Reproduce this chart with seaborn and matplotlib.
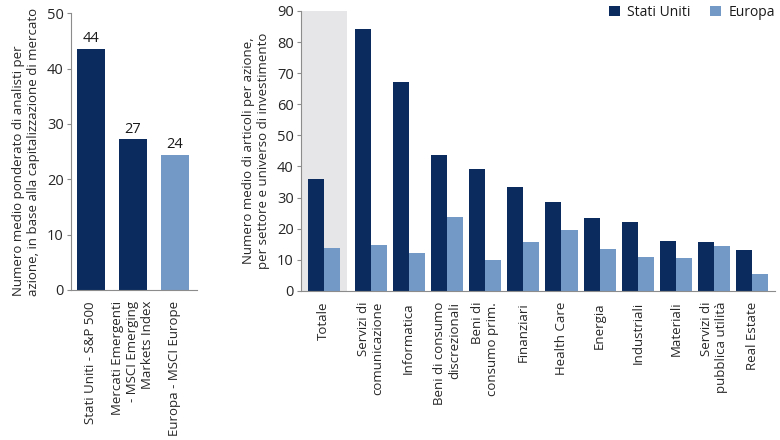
import pandas as pd
import matplotlib
matplotlib.use("Agg")
import matplotlib.pyplot as plt
import seaborn as sns

# *************************** Dati ***************************

# pannello sinistro: analisti per azione
mercati = [
    "Stati Uniti - S&P 500",
    "Mercati Emergenti\n- MSCI Emerging\nMarkets Index",
    "Europa - MSCI Europe",
]
analisti = [43.6, 27.2, 24.4]

# pannello destro: articoli per azione per settore
settori = [
    "Totale",
    "Servizi di\ncomunicazione",
    "Informatica",
    "Beni di consumo\ndiscrezionali",
    "Beni di\nconsumo prim.",
    "Finanziari",
    "Health Care",
    "Energia",
    "Industriali",
    "Materiali",
    "Servizi di\npubblica utilità",
    "Real Estate",
]
articoli_usa = [36.1, 84.3, 67.2, 43.8, 39.3, 33.3, 28.5, 23.4, 22.0, 16.1, 15.6, 13.2]
articoli_europa = [13.8, 14.7, 12.1, 23.7, 10.0, 15.7, 19.5, 13.5, 10.9, 10.6, 14.3, 5.5]
serie = ["Stati Uniti", "Europa"]

NAVY = "#0B2B5E"
LIGHT = "#7399C6"
GRIGIO = "#8C8C8C"

sns.set_style("ticks")
plt.rcParams["font.family"] = ["Open Sans", "DejaVu Sans"]
plt.rcParams["text.color"] = "#1A1A1A"

fig = plt.figure(figsize=(7.8, 4.4), dpi=100)
ax1 = fig.add_axes([0.0906, 0.341, 0.1616, 0.629])
ax2 = fig.add_axes([0.3855, 0.339, 0.608, 0.636])

# *************************** Pannello sinistro ***************************

sns.barplot(
    x=mercati,
    y=analisti,
    hue=mercati,
    palette=[NAVY, NAVY, LIGHT],
    width=0.66,
    saturation=1,
    linewidth=0,
    legend=False,
    ax=ax1,
)
for c in ax1.containers:
    ax1.bar_label(c, fmt="%.0f", padding=2, fontsize=10.5)

ax1.set_ylim(0, 50)
ax1.set_yticks(range(0, 51, 10))
ax1.set_xlim(-0.48, 2.52)
ax1.set_ylabel(
    "Numero medio ponderato di analisti per\nazione, in base alla capitalizzazione di mercato",
    fontsize=9.5,
    labelpad=5,
    multialignment="left",
)

# *************************** Pannello destro ***************************

# Totale staccato dagli altri settori
pos = [0.0] + [round(1.23 + i, 2) for i in range(len(settori) - 1)]
df = pd.DataFrame({
    "pos": pos * 2,
    "valore": articoli_usa + articoli_europa,
    "serie": [serie[0]] * len(settori) + [serie[1]] * len(settori),
})

ax2.axvspan(-0.6, 0.6, color="#E6E6E8", zorder=0, lw=0)
sns.barplot(
    data=df,
    x="pos",
    y="valore",
    hue="serie",
    hue_order=serie,
    palette=[NAVY, LIGHT],
    native_scale=True,
    width=0.84,
    saturation=1,
    linewidth=0,
    ax=ax2,
)

ax2.set_ylim(0, 90)
ax2.set_yticks(range(0, 91, 10))
ax2.set_xlim(-0.6, 11.82)
ax2.set_xticks(pos)
ax2.set_xticklabels(settori)
ax2.set_xlabel("")
ax2.set_ylabel(
    "Numero medio di articoli per azione,\nper settore e universo di investimento",
    fontsize=9.5,
    labelpad=5,
)

handles, labels = ax2.get_legend_handles_labels()
ax2.legend(
    handles,
    labels,
    loc="center right",
    bbox_to_anchor=(1.0, 0.995),
    ncol=2,
    frameon=False,
    fontsize=10,
    handlelength=0.8,
    handleheight=0.8,
    handletextpad=0.5,
    columnspacing=1.4,
    borderaxespad=0,
    borderpad=0,
)

# *************************** Stile assi ***************************

for ax in [ax1, ax2]:
    sns.despine(ax=ax)
    for s in ["left", "bottom"]:
        ax.spines[s].set_color(GRIGIO)
    ax.tick_params(axis="x", length=0, pad=8, labelsize=9.5)
    ax.tick_params(axis="y", length=3, color=GRIGIO, labelsize=10.5, pad=2)
    plt.setp(ax.get_xticklabels(), rotation=90, multialignment="right")

fig.savefig("out.png", dpi=100)
plt.close()
